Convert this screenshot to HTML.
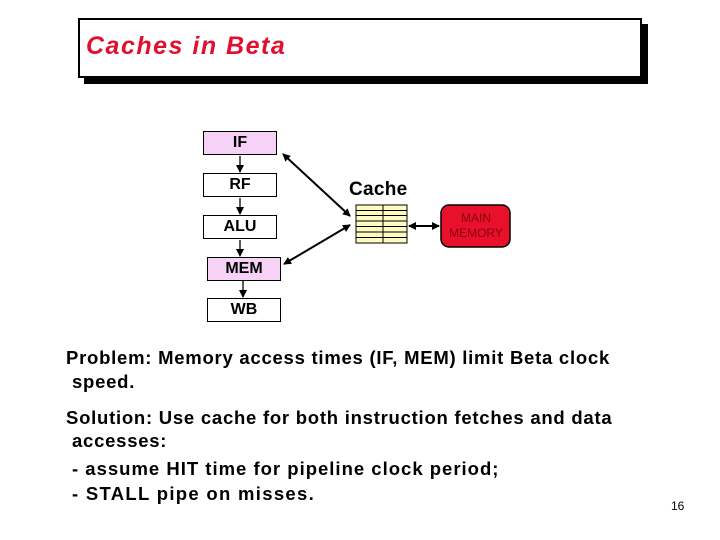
<!DOCTYPE html>
<html><head><style>
body{margin:0;width:720px;height:540px;background:#fff;position:relative;font-family:"Liberation Sans",sans-serif;overflow:hidden}
.tb{position:absolute;left:78px;top:18px;width:560px;height:56px;border:2px solid #000;background:#fff;box-shadow:6px 6px 0 #000}
.tt{position:absolute;left:86px;top:32px;font-size:25px;letter-spacing:1.5px;font-weight:bold;font-style:italic;color:#e0102e}
.bx{position:absolute;width:72px;height:22px;border:1px solid #000;font-weight:bold;font-size:16px;text-align:center;line-height:22px;background:#fff}
.p{background:#f6d2f6}
.t{position:absolute;font-weight:bold;font-size:18.5px;letter-spacing:0.75px;color:#000;white-space:nowrap}
</style></head><body>
<div class="tb"></div><div class="tt">Caches in Beta</div>
<div class="bx p" style="left:203px;top:131px">IF</div>
<div class="bx" style="left:203px;top:173px">RF</div>
<div class="bx" style="left:203px;top:215px">ALU</div>
<div class="bx p" style="left:207px;top:257px">MEM</div>
<div class="bx" style="left:207px;top:298px">WB</div>
<svg width="720" height="540" style="position:absolute;left:0;top:0">
<defs><marker id="a" markerWidth="8" markerHeight="8" refX="7" refY="4" orient="auto-start-reverse" markerUnits="userSpaceOnUse"><path d="M0,0L8,4L0,8z" fill="#000"/></marker></defs>
<g stroke="#000" stroke-width="1.3">
<line x1="240" y1="156" x2="240" y2="172" marker-end="url(#a)"/>
<line x1="240" y1="198" x2="240" y2="214" marker-end="url(#a)"/>
<line x1="240" y1="240" x2="240" y2="256" marker-end="url(#a)"/>
<line x1="243" y1="281" x2="243" y2="297" marker-end="url(#a)"/>
<line x1="283" y1="154" x2="350" y2="216" stroke-width="2" marker-start="url(#a)" marker-end="url(#a)"/>
<line x1="284" y1="264" x2="350" y2="225" stroke-width="2" marker-start="url(#a)" marker-end="url(#a)"/>
<line x1="409" y1="226" x2="439" y2="226" stroke-width="2" marker-start="url(#a)" marker-end="url(#a)"/>
</g>
<rect x="356" y="205" width="51" height="38" fill="#fdfbc0" stroke="#000"/>
<g stroke="#000" stroke-width="1">
<line x1="356" y1="210.5" x2="407" y2="210.5"/><line x1="356" y1="215.5" x2="407" y2="215.5"/>
<line x1="356" y1="221" x2="407" y2="221"/><line x1="356" y1="226.5" x2="407" y2="226.5"/>
<line x1="356" y1="232" x2="407" y2="232"/><line x1="356" y1="237.5" x2="407" y2="237.5"/>
<line x1="383" y1="205" x2="383" y2="243"/></g>
<rect x="441" y="205" width="69" height="42" rx="8" fill="#e8102a" stroke="#000" stroke-width="1.5"/>
<text x="476" y="222" font-size="12" text-anchor="middle" fill="#8a0010" font-family="Liberation Sans">MAIN</text>
<text x="476" y="237" font-size="12" text-anchor="middle" fill="#8a0010" font-family="Liberation Sans">MEMORY</text>
</svg>
<div class="t" style="left:349px;top:179px;font-size:19px;letter-spacing:0.3px">Cache</div>
<div class="t" style="left:66px;top:347px">Problem: Memory access times (IF, MEM) limit Beta clock</div>
<div class="t" style="left:72px;top:371px">speed.</div>
<div class="t" style="left:66px;top:407px">Solution: Use cache for both instruction fetches and data</div>
<div class="t" style="left:72px;top:430px">accesses:</div>
<div class="t" style="left:72px;top:458px;letter-spacing:1px">- assume HIT time for pipeline clock period;</div>
<div class="t" style="left:72px;top:483px;letter-spacing:1.3px">- STALL pipe on misses.</div>
<div class="t" style="left:671px;top:499px;font-size:12px;font-weight:normal;letter-spacing:0">16</div>
</body></html>
